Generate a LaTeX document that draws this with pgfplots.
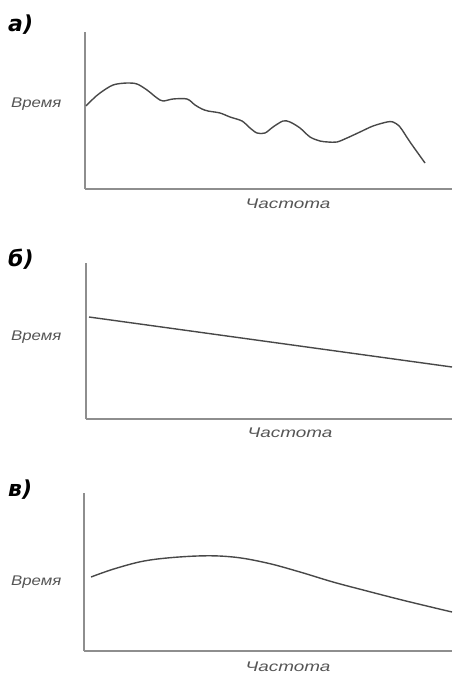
\documentclass[border=0pt]{standalone}
\usepackage{pgfplots}
\pgfplotsset{compat=1.18}
\usepackage{fontspec}
\setmainfont{Liberation Sans}
\newfontfamily\letterfont{DejaVu Sans}
\definecolor{axgray}{HTML}{8E8E8E}
\definecolor{curvegray}{HTML}{484848}
\definecolor{labgray}{HTML}{555555}
\pgfplotsset{panel/.style={scale only axis, axis lines=left,
  axis line style={-, draw=axgray, line width=1.6pt},
  xtick=\empty, ytick=\empty, clip=false, anchor=south west}}
\newcommand{\vremya}{\textcolor{labgray}{\scalebox{1.2}[1]{\fontsize{14}{14}\selectfont\itshape Время}}}
\newcommand{\chastota}{\textcolor{labgray}{\scalebox{1.35}[1]{\fontsize{14}{14}\selectfont\itshape Частота}}}
\newcommand{\plet}[1]{{\letterfont\bfseries\itshape\fontsize{22}{22}\selectfont #1}}
\begin{document}
\begin{tikzpicture}[x=1pt,y=1pt]
\useasboundingbox (0,0) rectangle (452,-676);
% panel a
\begin{axis}[panel, at={(85pt,-189pt)}, width=367pt, height=157pt,
  xmin=85, xmax=452, ymin=-189, ymax=-32]
\addplot[curvegray, line width=1.4pt, smooth, tension=0.5] coordinates {
(86,-106) (93,-99) (100,-93) (113,-85) (127,-83) (137,-84) (147,-90) (157,-98)
(163,-101) (173,-99) (187,-99) (195,-105) (202,-109) (208,-111) (220,-113)
(230,-117) (242,-121) (250,-128) (257,-133) (265,-133) (273,-127) (283,-121)
(290,-122) (300,-128) (310,-137) (320,-141) (328,-142) (337,-142) (347,-138)
(360,-132) (373,-126) (387,-122) (393,-122) (400,-127) (410,-142) (425,-163)};
\end{axis}
% panel b
\begin{axis}[panel, at={(86pt,-419pt)}, width=366pt, height=156pt,
  xmin=86, xmax=452, ymin=-419, ymax=-263]
\addplot[curvegray, line width=1.4pt] coordinates {(89,-317) (452,-367)};
\end{axis}
% panel c
\begin{axis}[panel, at={(84pt,-651pt)}, width=368pt, height=158pt,
  xmin=84, xmax=452, ymin=-651, ymax=-493]
\addplot[curvegray, line width=1.4pt, smooth, tension=0.6] coordinates {
(91,-577) (117,-568) (150,-560) (197,-556) (233,-557) (267,-563) (300,-572)
(333,-582) (367,-591) (400,-599.5) (433,-607.5) (452,-612)};
\end{axis}
% labels
\node[anchor=base west, inner sep=0] at (8,-32) {\plet{а)}};
\node[anchor=base west, inner sep=0] at (8,-266) {\plet{б)}};
\node[anchor=base west, inner sep=0] at (8,-496) {\plet{в)}};
\node[anchor=base west, inner sep=0] at (11,-108) {\vremya};
\node[anchor=base west, inner sep=0] at (11,-340) {\vremya};
\node[anchor=base west, inner sep=0] at (11,-585) {\vremya};
\node[anchor=base, inner sep=0] at (288,-208) {\chastota};
\node[anchor=base, inner sep=0] at (290,-437) {\chastota};
\node[anchor=base, inner sep=0] at (288,-671) {\chastota};
\end{tikzpicture}
\end{document}
